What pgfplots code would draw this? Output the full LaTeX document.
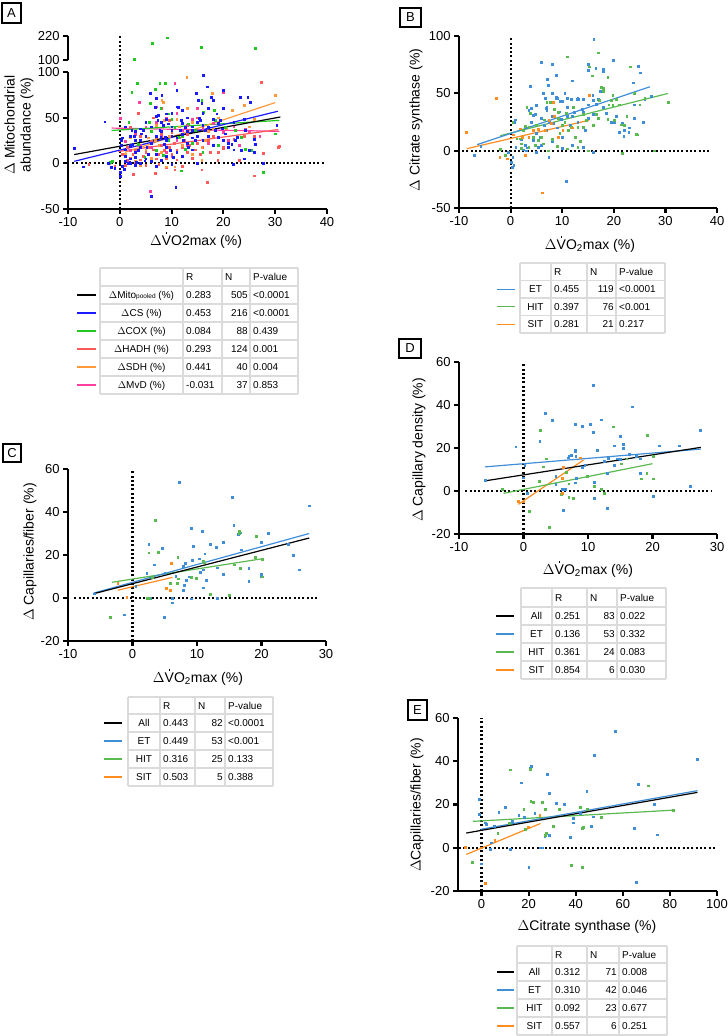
\documentclass[border=0pt]{standalone}
\usepackage{fontspec}
\setmainfont{Liberation Sans}
\usepackage{pgfplots}
\pgfplotsset{compat=1.18}

\definecolor{aCS}{HTML}{1A1AFF}
\definecolor{aCOX}{HTML}{22C822}
\definecolor{aHADH}{HTML}{FF5A5A}
\definecolor{aSDH}{HTML}{FF9A3C}
\definecolor{aMVD}{HTML}{FF3F9F}
\definecolor{cET}{HTML}{3F8ED8}
\definecolor{cHIT}{HTML}{5AB950}
\definecolor{cSIT}{HTML}{FF8C1E}

\pgfplotsset{
  panel/.style={
    scale only axis, anchor=south west,
    axis x line=bottom, axis y line=left,
    axis line style={-, line width=2.2pt, black},
    tick style={line width=2.2pt, black},
    tick align=outside, major tick length=5pt,
    tick label style={font=\fontsize{13}{15}\selectfont},
    x tick label style={inner sep=1pt, yshift=-2.3pt},
    y tick label style={inner sep=1pt, xshift=-2.3pt},
    /pgf/number format/assume math mode=true,
    clip=false,
  },
  dots/.style={only marks, mark=square*, mark size=0.9pt},
  reg/.style={line width=1.2pt, no marks},
  zero/.style={black, line width=2.2pt, dash pattern=on 2pt off 2.3pt, no marks},
}

\newcommand{\Vdot}{\rlap{\hspace{0.28em}\smash{\raisebox{0.84em}{\rule{1.5pt}{1.5pt}}}}V}
\newcommand{\trow}[9]{%
  \node[tcell] at (#2,#1) {#3};
  \node[tcell,anchor=west] at (#4,#1) {#5};
  \node[tcell,anchor=east] at (#6,#1) {#7};
  \node[tcell,anchor=west] at (#8,#1) {#9};}

\begin{document}
\begin{tikzpicture}[font=\fontsize{13}{15}\selectfont,
  tcell/.style={font=\fontsize{10}{12}\selectfont, inner sep=0pt, text height=7.2pt, text depth=0pt},
  tgrid/.style={draw=black!14, line width=1.1pt},
  lab/.style={font=\fontsize{14}{16}\selectfont, inner sep=0pt}]
\useasboundingbox (0pt,0pt) rectangle (728pt,1036pt);

% ================= Panel A (upper broken segment)
\begin{axis}[panel, at={(68pt,976pt)}, width=259pt, height=24pt,
  axis x line=none, xmin=-10, xmax=40, ymin=100, ymax=220, ytick={100,220}]
\addplot[zero] coordinates {(0,100) (0,220)};
\addplot[dots, aCOX] coordinates {(6.2,183) (9.1,211) (15.7,165) (26.2,158) (2.8,105)};
\end{axis}

% ================= Panel A (lower)
\begin{axis}[panel, at={(68pt,827pt)}, width=259pt, height=137pt,
  xmin=-10, xmax=40, ymin=-50, ymax=100, xtick={-10,0,10,20,30,40}, ytick={-50,0,50,100}]
\addplot[zero] coordinates {(0,-50) (0,113)};
\addplot[zero] coordinates {(-9.2,0) (39.5,0)};
\addplot[dots, aHADH] coordinates {(-6,-1) (-2,0) (-1,-3) (1,-2) (1.5,3) (2,6) (2.5,10) (3,-1) (3,14) (3.5,20) (4,4) (4.5,8) (5,12) (5.5,18) (6,24) (6,2) (6.5,15) (7,28) (7,5) (7.5,10) (8,20) (8,32) (8.5,14) (9,6) (9,25) (9.5,18) (10,10) (10,34) (10.5,22) (11,15) (11,4) (11.5,28) (12,18) (12,8) (12.5,25) (13,12) (13,32) (13.5,20) (14,6) (14,28) (14.5,15) (15,22) (15.5,10) (16,18) (16,40) (17,25) (17.5,12) (18,30) (18.9,3) (20,18) (20,16) (21,22) (23,3) (24,30) (25.9,-13.6) (27.3,89) (27.7,11) (30.6,17.6) (30.8,19) (2.6,-12) (6.9,-11) (16.9,-21) (15.8,-7) (10.6,-7) (9,-4) (3.5,55) (6.5,50) (9.5,47) (8,60) (15,50) (2,40) (4,30) (5,-2) (7.5,-1) (12,-3) (0.5,10) (1.5,18) (19,12) (22,26) (26,30)};
\addplot[dots, aSDH] coordinates {(12.9,94) (8.1,69) (8.4,67) (17.9,76.5) (21.7,58) (24,64) (30,74.6) (9,-3.7) (10.6,-3.7) (15.8,3.7) (15.8,17.6) (6.8,25) (7.5,20) (5.5,28) (8.5,47) (11.5,40) (13,35) (14,45) (19,50) (20.5,38) (7,42) (9.5,30) (12,20) (16.5,25) (6,6) (4,-2) (3,2) (1,10) (10,55) (11,48) (18,38) (22,45) (25,40) (5,15) (8,12) (14,10) (17,35) (2,28) (26,48) (13,60)};
\addplot[dots, aMVD] coordinates {(10.6,87.5) (3.7,67) (5.9,-30.5) (19.9,78) (0.1,49) (26,12) (24.2,37) (9,50) (7,62) (5,40) (12,36) (14,48) (16,38) (18,44) (20,34) (22,40) (8,30) (4,20) (2,14) (11,25) (13,20) (15,30) (17,22) (6,18) (10,8) (19,28) (21,25) (23,20) (3,32) (7,45) (11,55) (15,60) (25,35) (27,30) (1,24) (9,12) (13,42)};
\addplot[dots, aCOX] coordinates {(2.3,78.3) (3.4,87.5) (5.8,65.4) (6.9,80.9) (7.7,87.5) (8.7,87.5) (7.9,60) (9.4,54.4) (1.7,45.2) (5.7,45.2) (15.8,69) (16.1,56.3) (18.2,58) (23.5,28.7) (24.2,15.8) (25.4,14) (27.7,-9.9) (30,32.4) (11.9,-8) (9.4,25) (11.3,28.7) (12.6,15.8) (13.2,43.4) (-1.9,1.1) (-1.5,2.2) (3.5,21) (4.8,6.6) (7.1,14) (8.4,8.5) (10.6,39.7) (14.5,36) (18.4,47) (20.3,39.7) (22.3,36) (6,35) (10,48) (14,22) (16,12) (19,20) (12,30)};
\addplot[dots, aCS] coordinates {(-8.8,16.5) (-7.1,-3.7) (-2.9,45.6) (-2.3,0) (-1.7,-4.4) (-1,-5.5) (0.1,-14.3) (0.1,-9.9) (0.3,25) (0.5,28) (1.6,0) (1.9,1.1) (2.3,36) (2.5,21.3) (2.8,29.4) (2.9,6.6) (3.2,1.1) (3.5,14) (3.9,25) (4.2,32.4) (4.5,36) (4.8,2.9) (5.2,17.6) (5.5,10.3) (5.9,76.5) (6.1,-35.7) (6.9,61.8) (7.1,71) (7.3,47) (7.4,52.6) (7.7,36) (7.9,28.7) (8.1,74.6) (8.4,41.5) (8.6,21.3) (8.7,28.7) (9,54.4) (9.4,43.4) (9.7,14) (10,36) (10.3,6.6) (10.8,-26.5) (11,80) (11.3,61.8) (11.6,36) (11.9,47) (12.3,25) (12.6,39.7) (13.2,17.6) (13.9,36) (14.5,25) (14.8,76.5) (15,0) (15.2,69) (15.4,49) (15.5,47) (15.8,65.4) (16.1,96.7) (16.5,36) (16.8,83.8) (17.1,39.7) (17.7,72.8) (18.1,69) (18.4,36) (18.7,54.4) (19,28.7) (19.4,47) (19.7,37.9) (20,80) (20.3,32.4) (21,17.6) (21.6,21.3) (21.9,-0.7) (22.3,25) (22.6,28.7) (23.2,72.8) (23.5,14) (24.2,36) (24.7,72.8) (25.2,67.3) (26.1,21.3) (27.7,0) (30.3,41.5)
 (2,20) (3,25) (4,18) (5,30) (6,22) (7,30) (8,35) (9,25) (10,30) (11,28) (12,32) (4,38) (6,40) (8,45) (10,40) (12,44) (14,40) (16,42) (7,10) (9,8) (11,12) (13,22) (15,30) (17,30) (3,12) (5,5) (1,8) (1,15) (2,5) (6,2) (8,3) (9,18) (13,35) (15,45) (16,55) (18,48) (17,60) (13,50) (14,28) (3,35) (5,45) (7,52) (9,48) (2,30) (1,40) (0.5,-3) (0.8,-6) (1,2) (2,0) (3,-2) (4,0) (0.3,20) (7,-3) (10,-1) (20,25) (21,22) (22,15) (24,5) (25,14) (19,44) (26,12) (12,8) (14,15) (10,55) (11,62) (12,58) (16,25) (18,20) (20,60) (22,45) (24,48) (26,26)};
\addplot[reg, aMVD] coordinates {(-1.6,38.6) (30.8,35)};
\addplot[reg, aHADH] coordinates {(-0.3,13) (30.6,37)};
\addplot[reg, aCOX] coordinates {(-1.6,36) (30.8,47)};
\addplot[reg, aSDH] coordinates {(1,12) (30,66.5)};
\addplot[reg, aCS] coordinates {(-8.8,2.2) (30.5,57)};
\addplot[reg, black] coordinates {(-8.8,9.6) (31,50.7)};
\end{axis}

% ================= Panel B
\begin{axis}[panel, at={(459pt,828pt)}, width=258pt, height=172pt,
  xmin=-10, xmax=40, ymin=-50, ymax=100, xtick={-10,0,10,20,30,40}, ytick={-50,0,50,100}]
\addplot[zero] coordinates {(0,-50) (0,100)};
\addplot[zero] coordinates {(-9.4,0) (38.5,0)};
\addplot[dots, cET] coordinates {(-7,-3.8) (-5.8,4.1) (0.1,-10) (0.3,-14.3) (0.6,-12.8) (0.4,-5.5) (0.9,27) (0.7,25) (2.5,0.9) (2.8,4.7) (3.1,2.6) (3.8,56.3) (4,36.7) (4.4,31) (4.7,31.8) (5,39.7) (5.4,3.2) (6,77) (6.3,50) (6.7,45.5) (6.8,37.3) (7.1,62) (7.3,57) (7.4,-5.5) (8.1,75.2) (8.1,50) (8.9,65.9) (8.8,47) (8.9,45.5) (9.6,42.9) (10.1,42.9) (10.5,49.9) (10.8,-26.8) (12,61) (11.8,44.9) (12.1,38.2) (12.9,44.6) (13.1,44.9) (14,44.6) (14,3.2) (15,75.2) (15,70.3) (15.3,48) (16.1,97) (16.5,71.7) (17.9,70.8) (18,69.6) (17.4,51.9) (19.5,25) (19.9,79) (21.1,16.3) (21.7,23.6) (21.9,12.5) (22.9,16.3) (23.7,59.2) (24,28.6) (24.8,73.8) (25.1,67.9) (25.7,25) (27.2,47.8) (15.9,48.4) (16.6,40.5) (13.9,35.9) (12.3,33.8) (11,30.3) (9.8,27.1) (8.3,23.9) (7,18) (5.7,12) (4.4,9)
 (2,10) (3,20) (4,25) (5,15) (6,28) (7,35) (8,30) (9,20) (10,12) (11,38) (12,30) (13,25) (14,34) (15,40) (16,32) (17,45) (18,38) (12,5) (10,2) (8,8) (6,5) (5,-1) (3,0) (1,3) (16,44) (15,28) (13,46) (11,46) (9,46) (7,38) (20,25) (23,20) (16,-1) (-0.5,-1) (3.5,35) (7.5,25) (9.5,34) (11.5,22) (14.5,18) (18.5,33) (20.5,30) (22,18) (24,40) (26,45) (6.5,22)};
\addplot[dots, cHIT] coordinates {(11,81.9) (16.9,85.4) (15.2,73.2) (15.8,65.3) (18,54.2) (18,52) (18.8,64.4) (23.1,73.2) (19.8,48.4) (30.5,42.6) (19.8,39.4) (18.8,27.1) (20,26.8) (21.5,22.7) (24.3,14.3) (21.7,-2) (27.8,0) (15,0) (11,1.7) (7.3,0) (-2,1.2) (-1,-4) (0.4,25) (1.2,10.5) (1.9,10.5) (2.5,17.8) (2.8,21.3) (3.1,37.6) (3.5,20.4) (3.8,32.4) (4.4,12) (5.4,9) (6,12) (6.3,6) (7,42.6) (7.6,42.6) (9.2,28) (9.2,33.8) (10.8,32.4) (11.1,17.8) (11.8,20.4) (12.1,37.6) (13,20.4) (14,20.4) (14.7,26.5) (16.6,32) (17.1,44) (19.5,44) (8,10) (9.5,15) (4.8,5) (2,2) (13.5,8) (10,22) (22,22) (24.5,14)
 (5,22) (8.5,36) (10.5,25) (12.5,12) (14,32) (16,22) (17,28) (19,40) (20.5,45) (22.5,30) (25,40) (26,46) (2,6) (3.5,3) (6.5,27) (9,4) (13,3) (17.5,55) (21,40) (24,50)};
\addplot[dots, cSIT] coordinates {(-8.6,16.3) (-2.8,45.5) (-2.1,-5.5) (-0.7,-7) (1.9,19.2) (2.8,-4) (6.2,-36.7) (6.7,17.8) (7.4,26.5) (8.3,42.6) (9.2,11.4) (10.1,17.8) (15.3,48.4) (4.4,17.8) (3.5,12) (5.4,19) (7.8,23.6) (2.2,12) (0.5,14) (12,20) (8.5,30)};
\addplot[reg, cSIT] coordinates {(-8.5,1.7) (15.2,26.5)};
\addplot[reg, cHIT] coordinates {(-2,13.1) (30.5,49.9)};
\addplot[reg, cET] coordinates {(-6.5,5.2) (27,55.7)};
\end{axis}

% ================= Panel C
\begin{axis}[panel, at={(68pt,395pt)}, width=258pt, height=172pt,
  xmin=-10, xmax=30, ymin=-20, ymax=60, xtick={-10,0,10,20,30}, ytick={-20,0,20,40,60}]
\addplot[zero] coordinates {(0,-20) (0,60)};
\addplot[zero] coordinates {(-9,0) (29,0)};
\addplot[dots, cET] coordinates {(-6,2) (-1.3,-7.8) (0.5,5.6) (2.5,25) (2.2,11.6) (2.8,0) (3.4,15.5) (4.6,23) (4.9,-9.1) (5,11.5) (6.1,-2.2) (6.2,0) (6.7,10.1) (7.3,54) (7.9,14.9) (8.2,16.1) (8,6) (7.9,3.6) (8.3,8.1) (8.7,9.9) (9.1,32.6) (9.2,17.5) (9.1,-0.3) (9.4,24) (10.4,18.3) (10.5,12.1) (10.8,31.2) (11,13.2) (11,4.8) (11.2,20.6) (11.4,8.2) (12,25) (13,23.6) (13.1,14.1) (13.1,0) (14,26) (14,10.9) (15.4,47) (15.7,33.8) (15.8,15.5) (16.4,29.5) (16.7,30.4) (16.9,22.5) (18,14) (18,7.8) (19.9,26) (19.9,11.2) (19.9,9.9) (21,30.2) (24.1,25.1) (24.9,20) (25.8,13.2) (27.4,42.9)};
\addplot[dots, cHIT] coordinates {(-3.4,-9.1) (2.2,0) (2.5,21.1) (3,9.8) (3.5,36) (4,21.4) (5.8,6.7) (6.9,6.7) (7,18.9) (7.1,9) (9.1,9.8) (9.9,9.1) (11,17.2) (11.1,16.4) (12,1.9) (15,1.4) (15.8,15.5) (16.5,31) (16.6,30.2) (16.7,13.8) (19.2,28.8) (19,19) (20.1,18) (20.1,9.9) (2.6,0)};
\addplot[dots, cSIT] coordinates {(-2.3,7) (-0.9,0.2) (6,16) (5.9,3.6) (5.2,4.5)};
\addplot[reg, cSIT] coordinates {(-2.3,3.6) (6.2,9.6)};
\addplot[reg, cHIT] coordinates {(-3.2,7.3) (20.2,18.3)};
\addplot[reg, cET] coordinates {(-6,2.3) (27.4,30)};
\addplot[reg, black] coordinates {(-6,2) (27.4,27.9)};
\end{axis}

% ================= Panel D
\begin{axis}[panel, at={(459pt,502pt)}, width=258pt, height=172pt,
  xmin=-10, xmax=30, ymin=-20, ymax=60, xtick={-10,0,10,20,30}, ytick={-20,0,20,40,60}]
\addplot[zero] coordinates {(0,-20) (0,60)};
\addplot[zero] coordinates {(-9,0) (29.2,0)};
\addplot[dots, cET] coordinates {(-6,5) (-1.2,20.6) (0,6.2) (0.6,-1.1) (2.5,23.1) (3.4,36.1) (4.5,33) (5,7) (5,3.1) (6,0.8) (6.2,-9) (6.9,15.5) (7.4,16.6) (8,31.2) (8,19.1) (8,18.3) (8.1,16.3) (8,3.9) (8.2,6) (9.1,30.1) (9.1,10.9) (10.4,31.2) (10.8,49.1) (10.8,27.4) (11,4.2) (11,-3.4) (11.4,19.1) (12,33.2) (13,-7.9) (13,8.2) (13.1,15.2) (14,21.1) (14.1,12.1) (15,25.4) (15,14.7) (15.4,21.9) (15.5,20) (16.4,17.1) (16.8,39.2) (18.1,8.4) (18.1,15) (20.1,-2.3) (21.1,21.1) (24.1,21.1) (25.9,2.2) (27.4,28.1) (6.5,1) (9.5,12) (12.5,14) (14.5,15) (7,16) (17.5,16) (0.2,12)};
\addplot[dots, cHIT] coordinates {(-3.3,0.8) (0.9,-9.3) (2.4,4.7) (2.6,28.1) (3,11.3) (3.5,15) (4,-16.7) (5.9,-1.4) (6.6,8.8) (7,3.4) (7,-2.9) (7.7,-3.3) (9.9,7) (11,2.3) (12,0.9) (12.5,-1.1) (13.9,29.9) (15.1,12.7) (16,15) (18.2,5.7) (19.1,8.2) (19.2,25.9) (20.1,16.3) (20.1,5.7)};
\addplot[dots, cSIT] coordinates {(-0.8,-4.7) (0,-5) (6,-1.1) (6.2,10.9) (6,5.9) (8.8,15.5)};
\addplot[reg, cSIT] coordinates {(-0.8,-6.2) (9.3,14.4)};
\addplot[reg, cHIT] coordinates {(-3.1,-1.1) (20,12.7)};
\addplot[reg, cET] coordinates {(-6,11.2) (27.5,19.5)};
\addplot[reg, black] coordinates {(-6,4.7) (27.5,20.3)};
\end{axis}

% ================= Panel E
\begin{axis}[panel, at={(458pt,145pt)}, width=259pt, height=173pt,
  xmin=-10, xmax=100, ymin=-20, ymax=60, xtick={0,20,40,60,80,100}, ytick={-20,0,20,40,60}]
\addplot[zero] coordinates {(0,-20) (0,60)};
\addplot[zero] coordinates {(-9.5,0) (99,0)};
\addplot[dots, cET] coordinates {(-1.1,22.5) (-1.1,15.5) (0,-7.4) (1.4,11.6) (4.1,2.3) (3.8,-0.5) (7.3,16.3) (9.9,18.6) (12,-0.5) (13,12.1) (15.8,15) (16.8,30.1) (20,-9.1) (21,37.7) (20.7,36.7) (22.6,16) (25,0) (26,0) (27.8,34) (28.9,25.1) (26.8,5.4) (28.9,5.9) (31.7,20.6) (38.8,11.6) (37.7,4.7) (38.8,13.8) (44.7,26) (46.5,9.9) (47.5,14.4) (48,42.9) (56.8,54) (64.9,9) (65.7,-16) (66.6,29.5) (73.3,20) (74.6,6) (91.7,41.1) (2,11) (35,20) (42,16) (18,14) (5.5,10)};
\addplot[dots, cHIT] coordinates {(-3.9,-6.8) (6.9,6.8) (12,36.1) (11.8,11.2) (17.9,18) (18.6,8.5) (20.5,36.4) (20.9,21.6) (21.9,20.9) (25.7,21.1) (26.9,18) (27.4,6.7) (27.1,5.7) (30.3,10.1) (33.1,18) (38.1,-8.1) (41.8,18.9) (42.7,9) (43.2,9.6) (42.7,-9.1) (44.8,17.8) (50.8,14.3) (70.8,28.7) (81.4,17.4)};
\addplot[dots, cSIT] coordinates {(-6.8,0.3) (1.7,-16.3) (5.6,3.4) (19.7,9.6) (24.7,14.9) (0,0)};
\addplot[reg, cSIT] coordinates {(-6.5,-3.1) (25,11.2)};
\addplot[reg, cHIT] coordinates {(-3.7,12.2) (81.7,17.4)};
\addplot[reg, cET] coordinates {(-0.4,8.5) (91.7,26.4)};
\addplot[reg, black] coordinates {(-6.5,6.8) (91.7,25.6)};
\end{axis}

% ================= Labels, boxes, tables (pixel coordinates)
\begin{scope}[x=1pt, y=-1pt, shift={(0pt,1036pt)}]
% panel letters
\draw[line width=1.6pt] (2,3) rectangle (21,23); \node at (11.5,13) {A};
\draw[line width=1.6pt] (400,8) rectangle (421,27); \node at (410.5,17.5) {B};
\draw[line width=1.6pt] (3,444) rectangle (21,462); \node at (12,453) {C};
\draw[line width=1.6pt] (399,339) rectangle (421,358); \node at (410,348.5) {D};
\draw[line width=1.6pt] (408,700) rectangle (427,720); \node at (417.5,710) {E};

% axis titles
\node[lab, rotate=90, align=center] at (19,125) {$\Delta$ Mitochondrial\\abundance (\%)};
\node[lab] at (196,242) {$\Delta$\Vdot O2max (\%)};
\node[lab, rotate=90] at (416,120) {$\Delta$ Citrate synthase (\%)};
\node[lab] at (590,246) {$\Delta$\Vdot O\textsubscript{2}max (\%)};
\node[lab, rotate=90] at (30,552) {$\Delta$ Capillaries/fiber (\%)};
\node[lab] at (198,679) {$\Delta$\Vdot O\textsubscript{2}max (\%)};
\node[lab, rotate=90] at (419,450) {$\Delta$ Capillary density (\%)};
\node[lab] at (588,571) {$\Delta$\Vdot O\textsubscript{2}max (\%)};
\node[lab, rotate=90] at (417,805) {$\Delta$Capillaries/fiber (\%)};
\node[lab] at (587,927) {$\Delta$Citrate synthase (\%)};

% ---- Table A
\foreach \c in {100,183,222,250,298} \draw[tgrid] (\c,268) -- (\c,394);
\foreach \r in {268,286,304,322,340,358,376,394} \draw[tgrid] (100,\r) -- (298,\r);
\node[tcell,anchor=west] at (186,277) {R};
\node[tcell,anchor=west] at (225,277) {N};
\node[tcell,anchor=west] at (253,277) {P-value};
\trow{295}{141.5}{$\Delta$Mito{\fontsize{6.5}{7}\selectfont pooled} (\%)}{186}{0.283}{248}{505}{253}{<0.0001}
\trow{313}{141.5}{$\Delta$CS (\%)}{186}{0.453}{248}{216}{253}{<0.0001}
\trow{331}{141.5}{$\Delta$COX (\%)}{186}{0.084}{248}{88}{253}{0.439}
\trow{349}{141.5}{$\Delta$HADH (\%)}{186}{0.293}{248}{124}{253}{0.001}
\trow{367}{141.5}{$\Delta$SDH (\%)}{186}{0.441}{248}{40}{253}{0.004}
\trow{385}{141.5}{$\Delta$MvD (\%)}{186}{-0.031}{248}{37}{253}{0.853}
\draw[line width=1.2pt, black] (77,295) -- (96,295);
\draw[line width=1.2pt, aCS] (77,313) -- (96,313);
\draw[line width=1.2pt, aCOX] (77,331) -- (96,331);
\draw[line width=1.2pt, aHADH] (77,349) -- (96,349);
\draw[line width=1.2pt, aSDH] (77,367) -- (96,367);
\draw[line width=1.2pt, aMVD] (77,385) -- (96,385);

% ---- Table B
\foreach \c in {520,551,587,616,665} \draw[tgrid] (\c,263) -- (\c,333);
\foreach \r in {263,280.5,298,315.5,333} \draw[tgrid] (520,\r) -- (665,\r);
\node[tcell,anchor=west] at (554,271.75) {R};
\node[tcell,anchor=west] at (590,271.75) {N};
\node[tcell,anchor=west] at (619,271.75) {P-value};
\trow{289.25}{535.5}{ET}{554}{0.455}{614}{119}{619}{<0.0001}
\trow{306.75}{535.5}{HIT}{554}{0.397}{614}{76}{619}{<0.001}
\trow{324.25}{535.5}{SIT}{554}{0.281}{614}{21}{619}{0.217}
\draw[line width=1.2pt, cET] (497,289.25) -- (515,289.25);
\draw[line width=1.2pt, cHIT] (497,306.75) -- (515,306.75);
\draw[line width=1.2pt, cSIT] (497,324.25) -- (515,324.25);

% ---- Table C
\foreach \c in {128,160,195,225,273} \draw[tgrid] (\c,697) -- (\c,786);
\foreach \r in {697,714,732,750,768,786} \draw[tgrid] (128,\r) -- (273,\r);
\node[tcell,anchor=west] at (163,705.5) {R};
\node[tcell,anchor=west] at (198,705.5) {N};
\node[tcell,anchor=west] at (228,705.5) {P-value};
\trow{723}{144}{All}{163}{0.443}{223}{82}{228}{<0.0001}
\trow{741}{144}{ET}{163}{0.449}{223}{53}{228}{<0.001}
\trow{759}{144}{HIT}{163}{0.316}{223}{25}{228}{0.133}
\trow{777}{144}{SIT}{163}{0.503}{223}{5}{228}{0.388}
\draw[line width=1.2pt, black] (104,723) -- (122,723);
\draw[line width=1.2pt, cET] (104,741) -- (122,741);
\draw[line width=1.2pt, cHIT] (104,759) -- (122,759);
\draw[line width=1.2pt, cSIT] (104,777) -- (122,777);

% ---- Table D
\foreach \c in {521,552,587,617,666} \draw[tgrid] (\c,588) -- (\c,679);
\foreach \r in {588,607,625,643,661,679} \draw[tgrid] (521,\r) -- (666,\r);
\node[tcell,anchor=west] at (555,597.5) {R};
\node[tcell,anchor=west] at (590,597.5) {N};
\node[tcell,anchor=west] at (620,597.5) {P-value};
\trow{616}{536.5}{All}{555}{0.251}{615}{83}{620}{0.022}
\trow{634}{536.5}{ET}{555}{0.136}{615}{53}{620}{0.332}
\trow{652}{536.5}{HIT}{555}{0.361}{615}{24}{620}{0.083}
\trow{670}{536.5}{SIT}{555}{0.854}{615}{6}{620}{0.030}
\draw[line width=1.2pt, black] (496,616) -- (514,616);
\draw[line width=1.2pt, cET] (496,634) -- (514,634);
\draw[line width=1.2pt, cHIT] (496,652) -- (514,652);
\draw[line width=1.2pt, cSIT] (496,670) -- (514,670);

% ---- Table E
\foreach \c in {517,552,587,619,667} \draw[tgrid] (\c,946) -- (\c,1035);
\foreach \r in {946,963,981,999,1017,1035} \draw[tgrid] (517,\r) -- (667,\r);
\node[tcell,anchor=west] at (555,954.5) {R};
\node[tcell,anchor=west] at (590,954.5) {N};
\node[tcell,anchor=west] at (622,954.5) {P-value};
\trow{972}{534.5}{All}{555}{0.312}{617}{71}{622}{0.008}
\trow{990}{534.5}{ET}{555}{0.310}{617}{42}{622}{0.046}
\trow{1008}{534.5}{HIT}{555}{0.092}{617}{23}{622}{0.677}
\trow{1026}{534.5}{SIT}{555}{0.557}{617}{6}{622}{0.251}
\draw[line width=1.2pt, black] (497,972) -- (514,972);
\draw[line width=1.2pt, cET] (497,990) -- (514,990);
\draw[line width=1.2pt, cHIT] (497,1008) -- (514,1008);
\draw[line width=1.2pt, cSIT] (497,1026) -- (514,1026);
\end{scope}
\end{tikzpicture}
\end{document}
